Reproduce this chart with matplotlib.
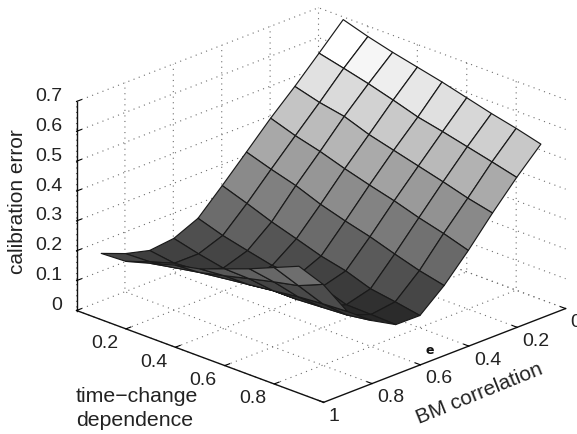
#! /usr/bin/env python
"""
Calibration error surface against BM correlation and time-change dependence.

USAGE: python plot.py
"""

import numpy as np
import matplotlib
matplotlib.use("Agg")
import matplotlib.pyplot as plt
from mpl_toolkits.mplot3d import proj3d

plt.rcParams['font.family'] = ['Liberation Sans', 'DejaVu Sans']

bm_corr = [0.0, 0.1, 0.2, 0.3, 0.4, 0.5, 0.6, 0.7, 0.8, 0.9, 1.0]
time_dep = [0.1, 0.2, 0.3, 0.4, 0.5, 0.6, 0.7, 0.8, 0.9]

# One list per BM correlation value, read along time_dep
err_00 = [.691, .665, .643, .624, .605, .583, .561, .542, .520]
err_01 = [.610, .590, .569, .545, .519, .501, .481, .461, .440]
err_02 = [.530, .507, .491, .461, .439, .417, .395, .371, .352]
err_03 = [.455, .427, .405, .378, .354, .332, .306, .284, .258]
err_04 = [.373, .346, .322, .290, .265, .243, .216, .191, .172]
err_05 = [.292, .263, .232, .206, .179, .160, .131, .118, .103]
err_06 = [.214, .187, .167, .148, .143, .137, .109, .107, .104]
err_07 = [.178, .157, .140, .132, .127, .127, .132, .137, .149]
err_08 = [.169, .157, .164, .168, .178, .188, .199, .206, .211]
err_09 = [.190, .193, .204, .219, .239, .260, .280, .298, .333]
err_10 = [.222, .226, .250, .275, .293, .324, .355, .390, .425]

bm_ticks = [0, 0.2, 0.4, 0.6, 0.8, 1]
bm_labels = ['0', '0.2', '0.4', '0.6', '0.8', '1']
dep_ticks = [0.2, 0.4, 0.6, 0.8]
dep_labels = ['0.2', '0.4', '0.6', '0.8']
err_ticks = [0, 0.1, 0.2, 0.3, 0.4, 0.5, 0.6, 0.7]
err_labels = ['0', '0.1', '0.2', '0.3', '0.4', '0.5', '0.6', '0.7']

Z = np.array([err_00, err_01, err_02, err_03, err_04, err_05,
              err_06, err_07, err_08, err_09, err_10]).T
X, Y = np.meshgrid(bm_corr, time_dep)

W, H = 577, 434
INK = '#222222'
fig = plt.figure(figsize=(W / 100, H / 100), dpi=100)

# Square 3d axes, bigger than the figure so the box lands where it should
S = 523.0
ax = fig.add_axes([52.5 / W, -39.6 / H, S / W, S / H], projection='3d')
ax.set_proj_type('ortho')
ax.view_init(elev=22.3, azim=44.4)
ax.set_box_aspect((346, 346, 226))
ax.patch.set_alpha(0)

colors = plt.cm.gray(np.clip(Z / Z.max(), 0, 1))
ax.plot_surface(X, Y, Z, facecolors=colors, rstride=1, cstride=1, shade=False,
                edgecolor='#1a1a1a', linewidth=0.85, antialiased=True)

ax.set_xlim(0, 1, view_margin=0)
ax.set_ylim(0, 1, view_margin=0)
ax.set_zlim(0, 0.7, view_margin=0)

ax.set_xticks(bm_ticks)
ax.set_xticklabels([])
ax.set_yticks(dep_ticks)
ax.set_yticklabels([])
ax.set_zticks(err_ticks)
ax.set_zticklabels([])

for axis in (ax.xaxis, ax.yaxis, ax.zaxis):
    axis.pane.set_visible(False)
    axis.line.set_color('#111111')
    axis.line.set_linewidth(1.0)
    axis._axinfo['grid'].update(color='#6e6e6e', linestyle=(0, (1, 4)), linewidth=0.8)
    axis._axinfo['tick'].update(inward_factor=0.0, outward_factor=0.25)


def tick_label(x, y, z, text, dx, dy, ha):
    """Put a tick label a fixed pixel offset away from a 3d point."""
    px, py, _ = proj3d.proj_transform(x, y, z, ax.get_proj())
    ax.annotate(text, xy=(px, py), xytext=(dx, dy), textcoords='offset pixels',
                ha=ha, va='center', fontsize=14, color=INK, annotation_clip=False)


for b, lab in zip(bm_ticks, bm_labels):
    tick_label(b, 1, 0, lab, 5, -14, 'left')
for t, lab in zip(dep_ticks, dep_labels):
    tick_label(1, t, 0, lab, -8, -15, 'right')
for e, lab in zip(err_ticks, err_labels):
    tick_label(1, 0, e, lab, -14.5, 5, 'right')

fig.text(18 / W, 1 - 202 / H, 'calibration error', rotation=90, fontsize=15,
         color=INK, ha='center', va='center')
fig.text(76 / W, 1 - 396 / H, 'time\u2212change', fontsize=15.3, color=INK,
         ha='left', va='center')
fig.text(76 / W, 1 - 421 / H, 'dependence', fontsize=15.3, color=INK,
         ha='left', va='center')
fig.text(479 / W, 1 - 394 / H, 'BM correlation', rotation=22, fontsize=15,
         color=INK, ha='center', va='center', rotation_mode='anchor')
fig.text(430 / W, 1 - 351 / H, 'e', fontsize=9, fontweight='bold', color='#111111',
         family='DejaVu Sans', ha='center', va='center')

fig.savefig('out.png', dpi=100)
